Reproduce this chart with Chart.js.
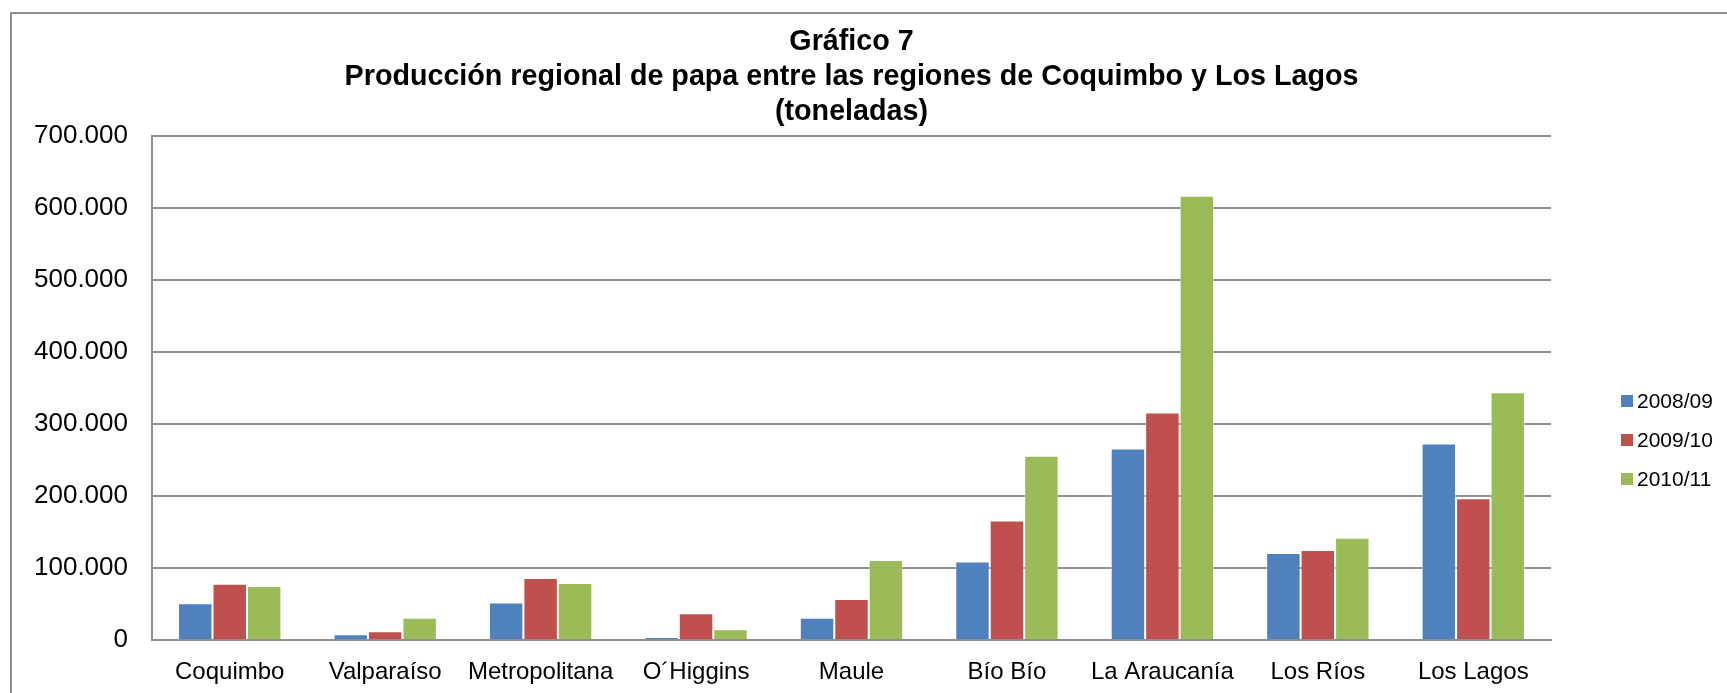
<!DOCTYPE html>
<html>
<head>
<meta charset="utf-8">
<script src="https://cdn.jsdelivr.net/npm/chart.js@4/dist/chart.umd.min.js"></script>
<style>
  body { margin: 0; background: #fff; }
  #wrap { position: relative; width: 1727px; height: 693px; overflow: hidden; }
  #frame { position: absolute; left: 10px; top: 12px; width: 1800px; height: 800px;
           border-left: 2px solid #8f8f8f; border-top: 2px solid #8f8f8f; pointer-events: none; }
</style>
</head>
<body>
<div id="wrap">
  <canvas id="chart" width="1727" height="693"></canvas>
  <div id="frame"></div>
</div>
<script>
const regions = ['Coquimbo', 'Valparaíso', 'Metropolitana', 'O´Higgins', 'Maule', 'Bío Bío', 'La Araucanía', 'Los Ríos', 'Los Lagos'];
const seasons = ['2008/09', '2009/10', '2010/11'];
const prod0809 = [51000, 8000, 52000, 4000, 31000, 109000, 266000, 121000, 273000];
const prod0910 = [78000, 12000, 86000, 37000, 57000, 166000, 316000, 125000, 197000];
const prod1011 = [75000, 31000, 79000, 15000, 111000, 256000, 617000, 142000, 344000];
const yTicks = [0, 100000, 200000, 300000, 400000, 500000, 600000, 700000];
const titleLines = ['Gráfico 7', 'Producción regional de papa entre las regiones de Coquimbo y Los Lagos', '(toneladas)'];

const colors = ['#4F81BD', '#C0504D', '#9BBB59'];
const FONT = "'Liberation Sans', Arial, sans-serif";

// thousands with a dot, like the original
const fmt = v => v === 0 ? '0' : String(v).replace(/\B(?=(\d{3})+(?!\d))/g, '.');

// simple legend drawn on the right, like Excel's
const sideLegend = {
  id: 'sideLegend',
  afterDraw(chart) {
    const ctx = chart.ctx;
    ctx.save();
    ctx.font = `21px ${FONT}`;
    ctx.textBaseline = 'middle';
    chart.data.datasets.forEach((ds, i) => {
      const y = 401 + i * 39;
      ctx.fillStyle = ds.backgroundColor;
      ctx.fillRect(1621, y - 6, 12, 12);
      ctx.fillStyle = '#000';
      ctx.fillText(ds.label, 1637, y + 1);
    });
    ctx.restore();
  }
};

const datasets = [prod0809, prod0910, prod1011].map((d, i) => ({
  label: seasons[i],
  data: d,
  backgroundColor: colors[i],
  borderColor: 'rgba(255,255,255,0.45)',
  borderWidth: 1,
  categoryPercentage: 0.665,
  barPercentage: 1.0
}));

new Chart(document.getElementById('chart'), {
  type: 'bar',
  data: { labels: regions, datasets },
  options: {
    responsive: false,
    animation: false,
    layout: { padding: { left: 0, right: 176, top: 0, bottom: 0 } },
    plugins: {
      legend: { display: false },
      tooltip: { enabled: false },
      title: {
        display: true,
        text: titleLines,
        color: '#000',
        fullSize: false,
        font: { family: FONT, size: 28.7, weight: 'bold', lineHeight: 1.22 },
        padding: { top: 25, bottom: 6 }
      }
    },
    scales: {
      x: {
        grid: { display: false, drawTicks: false },
        border: { display: true, color: '#8f8f8f', width: 2 },
        ticks: { color: '#000', padding: 18, font: { family: FONT, size: 24 }, maxRotation: 0 },
        afterFit: s => { s.height = 53; }
      },
      y: {
        min: 0,
        max: 700000,
        afterBuildTicks: s => { s.ticks = yTicks.map(v => ({ value: v })); },
        grid: { color: '#909090', lineWidth: 2, drawTicks: false },
        border: { display: true, color: '#8f8f8f', width: 2 },
        ticks: { color: '#000', padding: 24, font: { family: FONT, size: 26 }, callback: v => fmt(v) },
        afterFit: s => { s.width = 152; }
      }
    }
  },
  plugins: [sideLegend]
});
</script>
</body>
</html>
